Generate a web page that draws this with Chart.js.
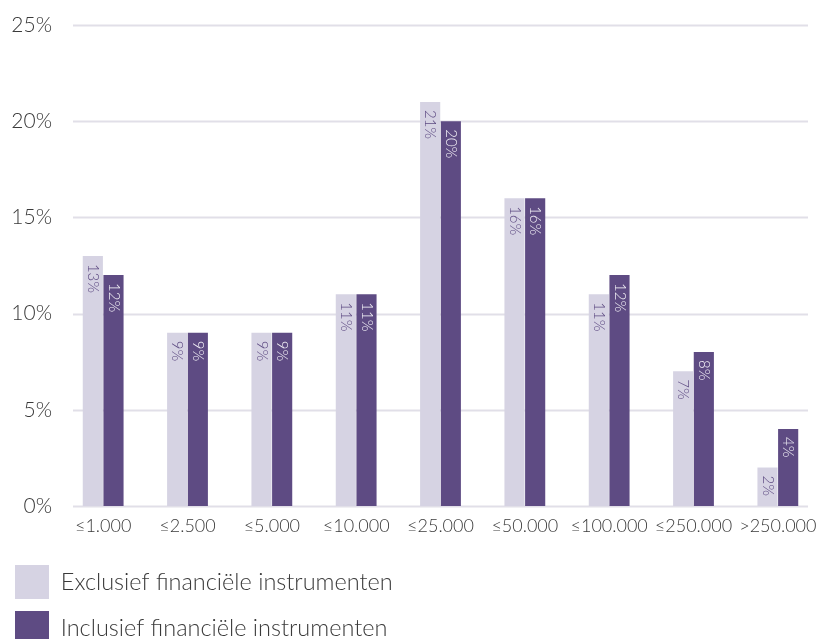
<!DOCTYPE html>
<html>
<head>
<meta charset="utf-8">
<script src="https://cdn.jsdelivr.net/npm/chart.js@4.4.1/dist/chart.umd.min.js"></script>
<style>
  html, body { margin: 0; padding: 0; background: #fff; overflow: hidden; }
  #wrap { position: relative; width: 820px; height: 655px; }
</style>
</head>
<body>
<div id="wrap"><canvas id="chart"></canvas></div>
<script>
// Vermogensklassen (in euro)
const categories = ['≤1.000', '≤2.500', '≤5.000', '≤10.000', '≤25.000', '≤50.000', '≤100.000', '≤250.000', '>250.000'];
const seriesNames = ['Exclusief financiële instrumenten', 'Inclusief financiële instrumenten'];
// Aandeel per klasse, in procenten
const exclusief = [13, 9, 9, 11, 21, 16, 11, 7, 2];
const inclusief = [12, 9, 9, 11, 20, 16, 12, 8, 4];
const yTicks = [0, 5, 10, 15, 20, 25];

const LIGHT = '#d6d3e3';
const DARK = '#5e4b83';
const GRID = '#e1dfe8';
const FONT = 'Lato, "Open Sans", sans-serif';
const LEGEND_WIDTH = 450;

// Horizontal grid lines, drawn behind the bars with a small inset on both sides
const gridPlugin = {
  id: 'insetGrid',
  beforeDatasetsDraw(chart) {
    const { ctx, chartArea, scales: { y } } = chart;
    ctx.save();
    ctx.strokeStyle = GRID;
    ctx.lineWidth = 2;
    yTicks.forEach(v => {
      const py = Math.round(y.getPixelForValue(v)) + 0.5;
      ctx.beginPath();
      ctx.moveTo(chartArea.left + 12, py);
      ctx.lineTo(chartArea.right - 12, py);
      ctx.stroke();
    });
    ctx.restore();
  }
};

// Rotated value labels just inside the top of every bar
const valueLabels = {
  id: 'valueLabels',
  afterDatasetsDraw(chart) {
    const { ctx } = chart;
    ctx.save();
    ctx.font = '300 15px ' + FONT;
    ctx.textAlign = 'left';
    ctx.textBaseline = 'middle';
    chart.data.datasets.forEach((ds, di) => {
      const meta = chart.getDatasetMeta(di);
      meta.data.forEach((bar, i) => {
        ctx.save();
        ctx.translate(bar.x, bar.y + 8);
        ctx.rotate(Math.PI / 2);
        ctx.fillStyle = di === 0 ? DARK : '#f3f1f7';
        ctx.fillText(ds.data[i] + '%', 0, 0);
        ctx.restore();
      });
    });
    ctx.restore();
  }
};

// Keep the legend narrow so that its entries stack in rows
const narrowLegend = {
  id: 'narrowLegend',
  afterLayout(chart) {
    const lg = chart.legend;
    if (lg) {
      lg.width = LEGEND_WIDTH;
      lg.right = lg.left + LEGEND_WIDTH;
    }
  }
};

const chart = new Chart(document.getElementById('chart'), {
  type: 'bar',
  data: {
    labels: categories,
    datasets: [
      { label: seriesNames[0], data: exclusief, backgroundColor: LIGHT },
      { label: seriesNames[1], data: inclusief, backgroundColor: DARK }
    ]
  },
  options: {
    responsive: true,
    maintainAspectRatio: false,
    animation: false,
    devicePixelRatio: 1,
    layout: { padding: { top: 25, left: 3, right: 0, bottom: 0 } },
    datasets: {
      bar: { categoryPercentage: 0.49, barPercentage: 0.975 }
    },
    scales: {
      x: {
        grid: { display: false, drawTicks: false },
        border: { display: false },
        ticks: {
          color: '#3a3a3a',
          font: { family: FONT, size: 18, weight: 300 },
          padding: 9,
          maxRotation: 0,
          autoSkip: false
        },
        afterFit(scale) {
          scale.height = 47;
          scale.paddingLeft = 0;
          scale.paddingRight = 0;
        }
      },
      y: {
        min: 0,
        max: 25,
        grid: { display: false, drawTicks: false },
        border: { display: false },
        afterBuildTicks(scale) { scale.ticks = yTicks.map(v => ({ value: v })); },
        ticks: {
          color: '#3a3a3a',
          font: { family: FONT, size: 21, weight: 300 },
          padding: 9,
          callback: v => v + '%'
        },
        afterFit(scale) { scale.width = 58; }
      }
    },
    plugins: {
      legend: {
        position: 'bottom',
        align: 'start',
        labels: {
          boxWidth: 34,
          boxHeight: 34,
          padding: 12,
          color: '#3a3a3a',
          font: { family: FONT, size: 23.5, weight: 300 }
        }
      },
      tooltip: { enabled: false }
    }
  },
  plugins: [gridPlugin, valueLabels, narrowLegend]
});

// Lay the legend rows out against the narrow width as well
const legendUpdate = chart.legend.update;
chart.legend.update = function (maxWidth, maxHeight, margins) {
  return legendUpdate.call(this, Math.min(maxWidth, LEGEND_WIDTH), maxHeight, margins);
};
chart.update();
</script>
</body>
</html>
